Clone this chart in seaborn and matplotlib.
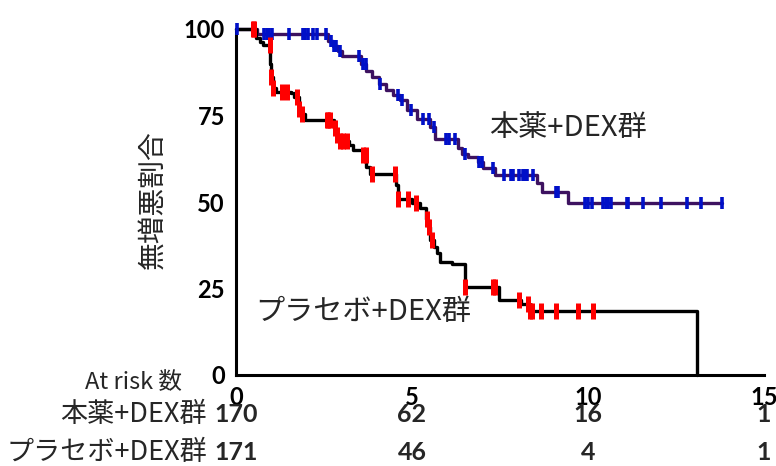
import numpy as np
import pandas as pd
import matplotlib
matplotlib.use("Agg")
import matplotlib.pyplot as plt
import seaborn as sns

# Kaplan-Meier step data (time in years, % progression-free)
drug_times = [0, 0.6, 2.62, 2.75, 2.9, 3.0, 3.55, 3.7, 3.85, 4.05, 4.25, 4.45, 4.66,
              4.85, 5.13, 5.5, 5.65, 6.3, 6.42, 6.6, 6.88, 7.03, 7.36, 8.55, 8.68, 9.44, 13.8]
drug_surv = [100, 98.5, 96.5, 95, 93.5, 92.3, 90, 88, 86, 84, 82.5, 81, 79.5,
             76.5, 74, 71.8, 68.2, 65.5, 64, 63, 61.5, 59.7, 57.8, 55.4, 53, 49.6, 49.6]
drug_censor = [0.02, 0.8, 0.88, 0.95, 1.02, 1.5, 1.9, 1.97, 2.05, 2.2, 2.3, 2.55, 2.7,
               2.78, 2.85, 2.95, 3.5, 3.6, 3.68, 4.1, 4.6, 4.72, 4.98, 5.3, 5.48, 5.62,
               5.98, 6.05, 6.22, 6.5, 6.9, 7.0, 7.31, 7.6, 7.8, 7.86, 8.05, 8.16, 8.22,
               8.28, 8.45, 9.1, 9.15, 9.91, 9.99, 10.1, 10.42, 10.5, 10.58, 10.64, 11.1,
               11.15, 11.56, 12.06, 12.8, 13.2, 13.8]

pbo_times = [0, 0.57, 0.68, 0.78, 0.97, 1.0, 1.05, 1.15, 1.55, 1.65, 1.78, 1.85, 1.95,
             2.78, 2.85, 2.95, 3.2, 3.33, 3.62, 3.7, 3.8, 4.55, 4.6, 4.99, 5.23, 5.4,
             5.46, 5.52, 5.62, 5.7, 5.8, 6.13, 6.5, 7.47, 8.1, 8.35, 13.1]
pbo_surv = [100, 97.3, 96.3, 95.4, 90, 86, 83, 81.9, 81.4, 80.4, 77, 75.5, 73.7,
            71.3, 69.5, 67.5, 66.5, 65, 63.6, 60.2, 58.1, 55, 51, 49.6, 48.2, 45,
            42.9, 39, 37, 35.2, 32.7, 32.0, 25.5, 21.7, 20.5, 18.6, 0]
pbo_censor = [0.47, 0.52, 0.96, 1.0, 1.05, 1.3, 1.45, 1.72, 1.8, 1.88, 2.58, 2.62,
              2.68, 2.8, 2.88, 2.95, 3.05, 3.15, 3.62, 3.68, 3.85, 4.52, 4.6, 4.9, 5.1,
              5.42, 5.48, 5.57, 6.5, 7.31, 7.36, 8.05, 8.3, 8.36, 8.4, 8.66, 9.09,
              9.73, 10.13]

group_names = ["本薬+DEX群", "プラセボ+DEX群"]
risk_times = [0, 5, 10, 15]
risk_drug = [170, 62, 16, 1]
risk_pbo = [171, 46, 4, 1]

sns.set_style("white")
plt.rcParams["font.family"] = ["Noto Sans CJK JP", "DejaVu Sans"]
num_font = ["Lato", "Noto Sans CJK JP", "DejaVu Sans"]


def step_value(times, surv, t):
    idx = np.searchsorted(times, t, side="right") - 1
    return surv[max(idx, 0)]


fig = plt.figure(figsize=(7.76, 4.66), dpi=100)
ax = fig.add_axes([236 / 776, 1 - 375 / 466, (764 - 236) / 776, (375 - 29) / 466])

curves = [
    (drug_times, drug_surv, drug_censor, "#3d1260", "#0010c8", 9, 2.6),
    (pbo_times, pbo_surv, pbo_censor, "#000000", "#ff0000", 11, 3.6),
]
for times, surv, cens, lc, mc, ms, mew in curves:
    df = pd.DataFrame({"t": times, "s": surv})
    sns.lineplot(data=df, x="t", y="s", drawstyle="steps-post", color=lc,
                 linewidth=2.4, ax=ax, clip_on=False, zorder=3)
    cens_y = [step_value(times, surv, c) for c in cens]
    ax.plot(cens, cens_y, linestyle="none", marker="|", markersize=ms,
            markeredgewidth=mew, color=mc, clip_on=False, zorder=4)

ax.set_xlim(0, 15)
ax.set_ylim(0, 100)
ax.set_xticks(risk_times)
ax.set_yticks([0, 25, 50, 75, 100])
ax.set_xlabel("")
ax.set_ylabel("")
for side in ["top", "right"]:
    ax.spines[side].set_visible(False)
for side in ["left", "bottom"]:
    ax.spines[side].set_linewidth(2.2)
    ax.spines[side].set_color("black")
ax.tick_params(axis="both", direction="out", length=7, width=2, colors="black",
               labelsize=17, pad=1)
for lab in ax.get_xticklabels() + ax.get_yticklabels():
    lab.set_fontweight("bold")
    lab.set_family(num_font)

fig.text(153 / 776, 1 - 200 / 466, "無増悪割合", rotation=90, ha="center",
         va="center", fontsize=20)
ax.text(7.2, 71.4, group_names[0], fontsize=21, ha="left", va="center")
ax.text(0.54, 18.2, group_names[1], fontsize=21, ha="left", va="center")

# at-risk table below the axis
fig.text(182 / 776, 1 - 383 / 466, "At risk 数", ha="right", va="center", fontsize=17)
row_y = [1 - 415 / 466, 1 - 452 / 466]
for name, counts, y in zip(group_names, [risk_drug, risk_pbo], row_y):
    fig.text(207 / 776, y, name, ha="right", va="center", fontsize=19.5)
    for t, n in zip(risk_times, counts):
        xf = ax.transData.transform((t, 0))[0] / fig.bbox.width
        fig.text(xf, y, str(n), ha="center", va="center", fontsize=18,
                 fontweight="bold", family=num_font)

fig.savefig("out.png", dpi=100)
